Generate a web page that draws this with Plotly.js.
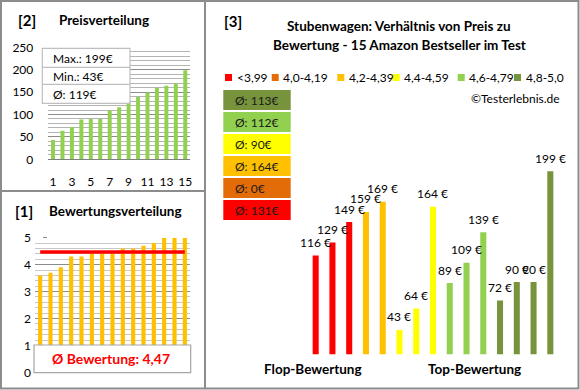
<!DOCTYPE html>
<html><head><meta charset="utf-8">
<script src="https://cdn.plot.ly/plotly-3.0.1.min.js"></script>
<style>html,body{margin:0;padding:0;background:#fff}#c{width:580px;height:390px}</style>
</head><body><div id="c"></div>
<script>
// ---- data ----
const barIndex = [1,2,3,4,5,6,7,8,9,10,11,12,13,14,15];
const priceSorted = [43,64,72,89,90,90,109,116,129,139,149,159,164,169,199];
const ratingSorted = [3.6,3.7,3.9,4.3,4.3,4.4,4.4,4.4,4.6,4.6,4.7,4.8,5.0,5.0,5.0];
const ratingAvg = 4.47;
const ratingAvgText = 'Ø Bewertung: 4,47';
const priceMax = 199, priceMin = 43, priceAvg = 119;
const priceByRating = [116,129,149,159,169,43,64,164,89,109,139,72,90,90,199];
const groupOfBar = [0,0,0,2,2,3,3,3,4,4,4,5,5,5,5];
const groupLabels = ['<3,99','4,0-4,19','4,2-4,39','4,4-4,59','4,6-4,79','4,8-5,0'];
const groupColors = ['#FF0000','#E36C09','#FFC000','#FFFF00','#92D050','#77933C'];
const groupAvg = [131,0,164,90,112,113];
const xTickVals = [1,3,5,7,9,11,13,15];

// ---- helpers (pixel -> paper) ----
const W = 580, H = 390;
const PX = x => x / W;
const PY = y => 1 - y / H;
const FONT = 'Lato, "Open Sans", sans-serif';

const traces = [
  { type:'bar', x: barIndex, y: priceSorted, xaxis:'x', yaxis:'y',
    marker:{color:'#92D050'}, width:0.42, hoverinfo:'skip' },
  { type:'bar', x: barIndex, y: ratingSorted, xaxis:'x2', yaxis:'y2',
    marker:{color:'#FFC000'}, width:0.4, hoverinfo:'skip' },
  { type:'scatter', mode:'lines', x:[barIndex[0], barIndex[barIndex.length-1]], y:[ratingAvg, ratingAvg],
    xaxis:'x2', yaxis:'y2', line:{color:'#FF0000', width:3.5}, hoverinfo:'skip' },
  { type:'bar', x: priceByRating.map((_,i)=>i), y: priceByRating, xaxis:'x3', yaxis:'y3',
    marker:{color: groupOfBar.map(g=>groupColors[g])}, width:0.36, hoverinfo:'skip' }
];

const shapes = [];
const annotations = [];
const border = '#8c8c8c';
// frames
shapes.push({type:'rect', xref:'paper', yref:'paper', x0:PX(1), x1:PX(578.5), y0:PY(388.5), y1:PY(1), line:{color:border, width:2}});
shapes.push({type:'line', xref:'paper', yref:'paper', x0:PX(205), x1:PX(205), y0:PY(1), y1:PY(388.5), line:{color:border, width:2}});
shapes.push({type:'line', xref:'paper', yref:'paper', x0:PX(1), x1:PX(205), y0:PY(191), y1:PY(191), line:{color:border, width:2}});

function txt(x, y, text, opts) {
  annotations.push(Object.assign({xref:'paper', yref:'paper', x:PX(x), y:PY(y), text, showarrow:false,
    xanchor:'left', yanchor:'middle', font:{family:FONT, size:12, color:'#000'}}, opts||{}));
}
txt(16, 20, '<b>[2]</b>', {font:{family:FONT, size:15, color:'#000'}});
txt(57, 20, '<b>Preisverteilung</b>', {font:{family:FONT, size:13.5, color:'#000'}});
txt(13, 211.5, '<b>[1]</b>', {font:{family:FONT, size:15, color:'#000'}});
txt(47, 211.5, '<b>Bewertungsverteilung</b>', {font:{family:FONT, size:13.5, color:'#000'}});
txt(222, 21, '<b>[3]</b>', {font:{family:FONT, size:15, color:'#000'}});
txt(399, 26, '<b>Stubenwagen: Verhältnis von Preis zu</b>', {xanchor:'center', font:{family:FONT, size:13.5, color:'#000'}});
txt(399, 45, '<b>Bewertung - 15 Amazon Bestseller im Test</b>', {xanchor:'center', font:{family:FONT, size:13.5, color:'#000'}});

// stats box panel [2]
shapes.push({type:'rect', xref:'paper', yref:'paper', x0:PX(42.3), x1:PX(130), y0:PY(103.3), y1:PY(48.3), fillcolor:'#fff', line:{color:'#bfbfbf', width:1.2}, layer:'above'});
[67.3, 84.3].forEach(yy => shapes.push({type:'line', xref:'paper', yref:'paper', x0:PX(42.3), x1:PX(130), y0:PY(yy), y1:PY(yy), line:{color:'#bfbfbf', width:1.2}}));
txt(51, 58, 'Max.: ' + priceMax + '€');
txt(51, 76.5, 'Min.: ' + priceMin + '€');
txt(51, 94.5, 'Ø: ' + priceAvg + '€');

// rating avg box panel [1]
shapes.push({type:'rect', xref:'paper', yref:'paper', x0:PX(34), x1:PX(190.7), y0:PY(372.7), y1:PY(345), fillcolor:'#fff', line:{color:'#a6a6a6', width:1.2}, layer:'above'});
txt(111, 358.5, '<b>' + ratingAvgText + '</b>', {xanchor:'center', font:{family:FONT, size:14, color:'#FF0000'}});

// legend panel [3]
const legSq = [225, 271.7, 337.3, 392.7, 457.7, 514];
groupLabels.forEach((lab, g) => {
  shapes.push({type:'rect', xref:'paper', yref:'paper', x0:PX(legSq[g]), x1:PX(legSq[g]+7), y0:PY(81), y1:PY(74), fillcolor:groupColors[g], line:{width:0}});
  txt(legSq[g]+9.5, 77.5, lab, {font:{family:FONT, size:12, color:'#000'}});
});
txt(562, 98.5, '©Testerlebnis.de', {xanchor:'right', font:{family:FONT, size:12, color:'#000'}});

// average boxes (top: best group)
for (let k = 0; k < groupColors.length; k++) {
  const g = groupColors.length - 1 - k;
  const top = 90 + k * 22;
  shapes.push({type:'rect', xref:'paper', yref:'paper', x0:PX(223.3), x1:PX(290.7), y0:PY(top+20), y1:PY(top), fillcolor:groupColors[g], line:{width:0}});
  txt(233, top + 10.5, 'Ø: ' + groupAvg[g] + '€', {font:{family:FONT, size:12, color:'#1a1a1a'}});
}

// value labels panel [3]
priceByRating.forEach((v, i) => {
  annotations.push({xref:'x3', yref:'y3', x:i, y:v, text: v + ' €', showarrow:false, xanchor:'center', yanchor:'middle', yshift:13,
    font:{family:FONT, size:12, color:'#000'}});
});
txt(312.5, 369, '<b>Flop-Bewertung</b>', {xanchor:'center', font:{family:FONT, size:13.5, color:'#000'}});
txt(474, 369, '<b>Top-Bewertung</b>', {xanchor:'center', font:{family:FONT, size:13.5, color:'#000'}});

const tickFont = {family:FONT, size:12, color:'#000'};
const layout = {
  width: W, height: H, margin:{l:0, r:0, t:0, b:0}, showlegend:false,
  paper_bgcolor:'#fff', plot_bgcolor:'rgba(0,0,0,0)', bargap:0.5,
  xaxis: {domain:[PX(48.3), PX(190)], range:[0.5, 15.5], tickvals:xTickVals, showgrid:false, zeroline:false,
    showline:false, ticks:'', tickfont:tickFont, ticklabelstandoff:14, fixedrange:true},
  yaxis: {domain:[PY(159.3), PY(47.3)], range:[0, 250], dtick:50, showgrid:true, gridcolor:'#8c8c8c', gridwidth:1,
    minor:{dtick:10, showgrid:true, gridcolor:'#b4b4b4', gridwidth:1}, zeroline:true, zerolinecolor:'#7f7f7f', zerolinewidth:1.5,
    showline:false, ticks:'', tickfont:tickFont, ticklabelstandoff:14, fixedrange:true},
  xaxis2: {domain:[PX(35), PX(190)], range:[0.5, 15.5], showticklabels:false, showgrid:false, zeroline:false, showline:false, ticks:'', fixedrange:true},
  yaxis2: {domain:[PY(372.3), PY(237.7)], range:[0, 5], dtick:1, showgrid:true, gridcolor:'#8c8c8c', gridwidth:1,
    minor:{dtick:0.2, showgrid:true, gridcolor:'#c8c8c8', gridwidth:1}, zeroline:false, showline:false,
    ticks:'outside', ticklen:4, tickcolor:'#8c8c8c', tickfont:tickFont, ticklabelstandoff:10, fixedrange:true},
  xaxis3: {domain:[PX(307.3), PX(558.7)], range:[-0.5, 14.5], visible:false, fixedrange:true},
  yaxis3: {domain:[PY(354.3), PY(160)], range:[19, 210], visible:false, fixedrange:true},
  shapes, annotations
};
Plotly.newPlot('c', traces, layout, {staticPlot:true, displayModeBar:false});
</script></body></html>
